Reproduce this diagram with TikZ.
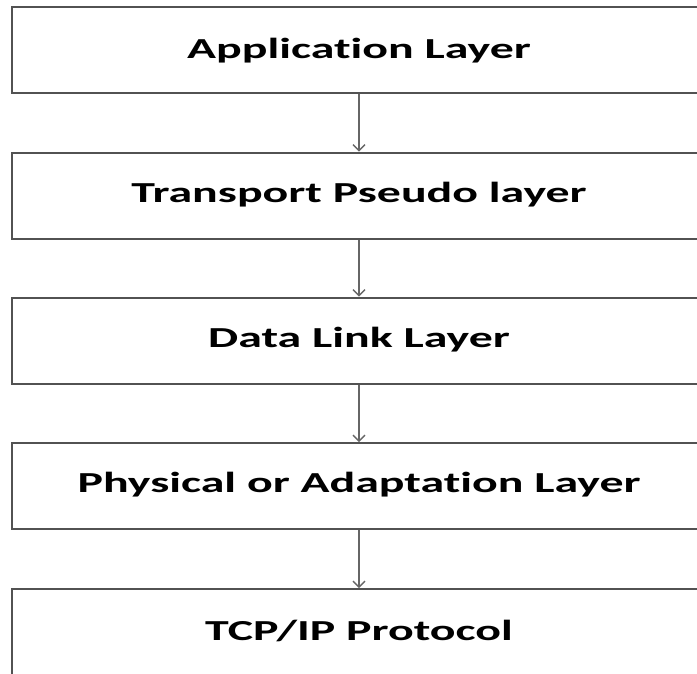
\documentclass[tikz,border=0pt]{standalone}
\usepackage{fontspec}
\setmainfont[Ligatures=NoCommon]{Carlito}
\usetikzlibrary{arrows.meta}
\begin{document}
\begin{tikzpicture}[x=1pt,y=-1pt,
  layerbox/.style={draw=black!68, line width=2pt, minimum width=694pt, minimum height=86pt, inner sep=0pt, fill=white},
  lbl/.style={font=\fontsize{29}{32}\selectfont\bfseries, xscale=1.65},
  flow/.style={draw=black!60, line width=1.6pt, -{Straight Barb[length=6pt,width=12pt,line width=1.4pt]}}]
\useasboundingbox (0,0) rectangle (697,673);
\clip (0,0) rectangle (697,673);
\fill[white] (0,0) rectangle (697,673);
\node[layerbox] (b1) at (359,50) {};
\node[layerbox] (b2) at (359,195.5) {};
\node[layerbox] (b3) at (359,340.5) {};
\node[layerbox] (b4) at (359,486) {};
\node[layerbox] (b5) at (359,632) {};
\node[lbl] (t1) at (359,50.5) {Application Layer};
\node[lbl] (t2) at (359,195) {Transport Pseudo layer};
\node[lbl] (t3) at (359,340) {Data Link Layer};
\node[lbl] (t4) at (359,485) {Physical or Adaptation Layer};
\node[lbl] (t5) at (359,631) {TCP/IP Protocol};
\draw[flow] (b1.south) -- (b2.north);
\draw[flow] (b2.south) -- (b3.north);
\draw[flow] (b3.south) -- (b4.north);
\draw[flow] (b4.south) -- (b5.north);
\end{tikzpicture}
\end{document}
